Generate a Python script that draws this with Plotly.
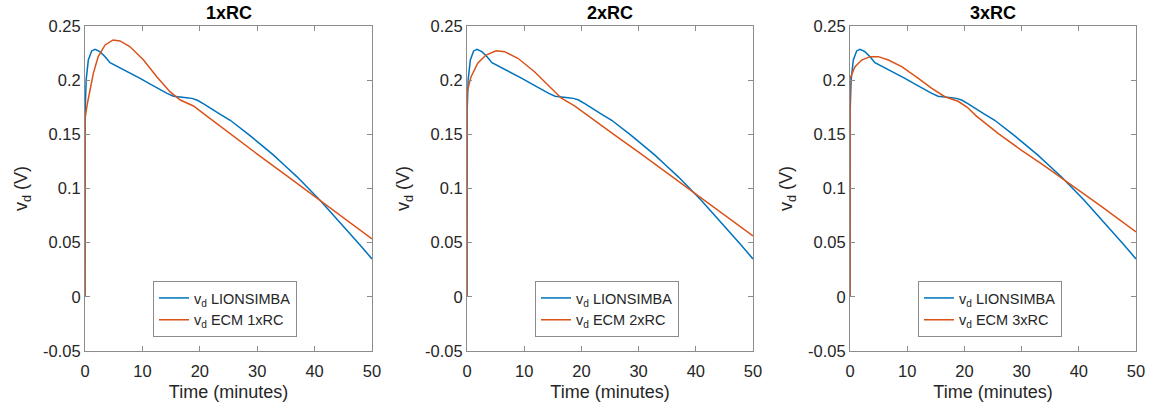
import plotly.graph_objects as go

# LIONSIMBA reference (same in all panels)
t_lion = [0, 0.02, 0.2, 0.58, 1.16, 1.74, 2.6, 3.5, 4.36, 5.5, 6.7, 8.2, 9.6, 11.3, 13.07,
          14.3, 15.4, 16.5, 17.7, 18.6, 19.5, 20.6, 21.8, 23.5, 25.3, 27.0, 28.7, 30.7,
          32.8, 34.8, 36.9, 38.9, 40.9, 43.2, 45.6, 47.8, 50]
v_lion = [0, 0.17, 0.2, 0.2186, 0.227, 0.2285, 0.2263, 0.2217, 0.2161, 0.213, 0.21, 0.206,
          0.2017, 0.1965, 0.191, 0.1878, 0.1852, 0.1842, 0.1838, 0.1832, 0.1817, 0.1783,
          0.174, 0.1687, 0.163, 0.1563, 0.149, 0.1403, 0.131, 0.1212, 0.111, 0.1003, 0.0894,
          0.0757, 0.0617, 0.0485, 0.035]

# ECM 1xRC
t_ecm1 = [0, 0.02, 0.4, 0.87, 1.45, 2.3, 3.5, 4.9, 6.1, 7.8, 10.2, 12.5, 14.8, 16.6,
          18.9, 20.6, 22.9, 26.5, 30, 35, 40.9, 45, 50]
v_ecm1 = [0, 0.165, 0.178, 0.191, 0.2063, 0.2217, 0.2325, 0.2371, 0.2362, 0.231, 0.2186,
          0.2032, 0.1894, 0.1817, 0.1762, 0.1694, 0.16, 0.1455, 0.1318, 0.1123, 0.0894,
          0.0733, 0.0535]

# ECM 2xRC
t_ecm2 = [0, 0.02, 0.7, 1.87, 3.33, 5.1, 6.55, 8.9, 11.8, 14.7, 16.5, 18.8, 20.2, 22.6,
          26.5, 30, 35, 39.5, 45, 50]
v_ecm2 = [0, 0.189, 0.203, 0.2156, 0.2232, 0.2272, 0.2263, 0.2202, 0.2078, 0.1925, 0.1833,
          0.1762, 0.171, 0.1617, 0.1468, 0.1335, 0.1142, 0.0965, 0.0755, 0.0562]

# ECM 3xRC
t_ecm3 = [0, 0.02, 0.88, 2.05, 3.5, 4.95, 6.7, 9.04, 11.95, 14.3, 16.6, 18.9, 20.5, 22.1,
          26, 30, 34, 37.9, 44, 50]
v_ecm3 = [0, 0.2017, 0.2125, 0.2186, 0.2217, 0.2217, 0.2186, 0.2125, 0.2017, 0.1925, 0.1847,
          0.1805, 0.175, 0.1668, 0.1505, 0.1352, 0.1208, 0.1063, 0.0832, 0.06]

titles = ["1xRC", "2xRC", "3xRC"]
ecm_names = ["ECM 1xRC", "ECM 2xRC", "ECM 3xRC"]
ecm_t = [t_ecm1, t_ecm2, t_ecm3]
ecm_v = [v_ecm1, v_ecm2, v_ecm3]

x_ticks = [0, 10, 20, 30, 40, 50]
y_ticks = [-0.05, 0, 0.05, 0.1, 0.15, 0.2, 0.25]
y_ticklabels = ["-0.05", "0", "0.05", "0.1", "0.15", "0.2", "0.25"]

BLUE = "#0072BD"
ORANGE = "#D95319"
W, H = 1153, 409
ML, MR, MT, MB = 85, 17, 26, 58
PW, PH = W - ML - MR, H - MT - MB
x_px = [(85, 372), (467, 753), (850, 1136)]
leg_x = [153, 535, 918]
leg_y = 281

fig = go.Figure()
FAM = "Liberation Sans, Arial, sans-serif"
font = dict(family=FAM, color="#262626")

for i in range(3):
    xa = "x" if i == 0 else f"x{i+1}"
    ya = "y" if i == 0 else f"y{i+1}"
    lg = "legend" if i == 0 else f"legend{i+1}"
    fig.add_trace(go.Scatter(x=t_lion, y=v_lion, mode="lines", name="v<sub>d</sub> LIONSIMBA",
                             line=dict(color=BLUE, width=1.5), xaxis=xa, yaxis=ya, legend=lg))
    fig.add_trace(go.Scatter(x=ecm_t[i], y=ecm_v[i], mode="lines",
                             name="v<sub>d</sub> " + ecm_names[i],
                             line=dict(color=ORANGE, width=1.5), xaxis=xa, yaxis=ya, legend=lg))
    p0, p1 = x_px[i]
    axis_common = dict(showline=True, linecolor="#8c8c8c", linewidth=1, mirror="ticks",
                       ticks="inside", ticklen=5, tickcolor="#8c8c8c", showgrid=False,
                       zeroline=False, automargin=False, tickfont=dict(size=16.5, **font))
    fig.layout[("xaxis" if i == 0 else f"xaxis{i+1}")] = dict(
        domain=[(p0 - ML) / PW, (p1 - ML) / PW], range=[0, 50], tickvals=x_ticks, anchor=ya,
        ticklabelstandoff=5,
        title=dict(text="Time (minutes)", font=dict(size=18, **font), standoff=6),
        **axis_common)
    fig.layout[("yaxis" if i == 0 else f"yaxis{i+1}")] = dict(
        domain=[0, 1], range=[-0.05, 0.25], tickvals=y_ticks,
        ticktext=y_ticklabels, anchor=xa,
        title=dict(text="v<sub>d</sub> (V)", font=dict(size=18, **font), standoff=10),
        **axis_common)
    fig.layout[lg] = dict(x=(leg_x[i] - ML) / PW, y=(H - MB - leg_y) / PH,
                          xanchor="left", yanchor="top",
                          bgcolor="white", bordercolor="#8c8c8c", borderwidth=1,
                          font=dict(size=14.5, **font), tracegroupgap=0)
    fig.add_annotation(text="<b>" + titles[i] + "</b>", x=((p0 + p1) / 2 - ML) / PW,
                       y=(H - MB - 13) / PH, xref="paper", yref="paper", showarrow=False,
                       xanchor="center", yanchor="middle",
                       font=dict(size=18, family=FAM, color="black"))

fig.update_layout(width=W, height=H, margin=dict(l=ML, r=MR, t=MT, b=MB, autoexpand=False),
                  paper_bgcolor="white", plot_bgcolor="white", showlegend=True)
fig.write_html("out.html")
